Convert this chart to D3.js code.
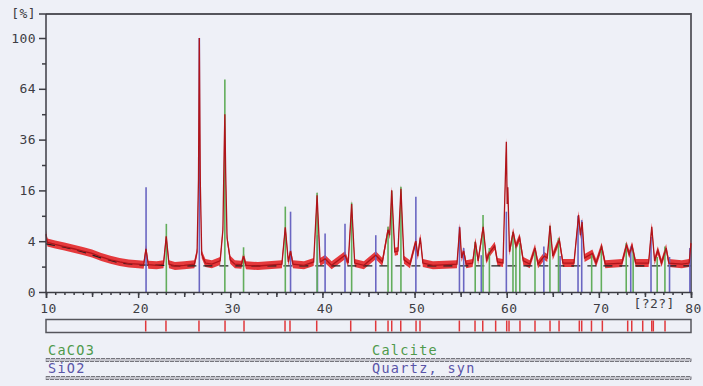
<!DOCTYPE html>
<html>
<head>
<meta charset="utf-8">
<script src="https://cdn.jsdelivr.net/npm/d3@7"></script>
<style>
  html, body { margin: 0; padding: 0; background: #eef0f7; }
  svg { display: block; }
  text { font-family: "DejaVu Sans Mono", "Liberation Mono", monospace; }
</style>
</head>
<body>
<svg id="chart" width="703" height="386"></svg>
<script>
// axis labels
const xTickLabels = [10, 20, 30, 40, 50, 60, 70, 80];
const yTickLabels = [0, 4, 16, 36, 64, 100];
const yMinorTicks = [1, 9, 25, 49, 81];

const observed = [
  [10.0, 5.2], [10.15, 3.8], [11, 3.5], [12, 3.2], [13, 2.9], [14, 2.6], [15, 2.3],
  [16, 1.9], [17, 1.6], [18, 1.4], [19, 1.25], [20, 1.2], [20.6, 1.15], [20.85, 2.9],
  [21.1, 1.15], [22, 1.1], [22.75, 1.2], [23.05, 4.8], [23.35, 1.2], [24, 1.05],
  [25, 1.1], [26.1, 1.2], [26.4, 2.5], [26.55, 20], [26.64, 100], [26.75, 18],
  [26.9, 2.2], [27.3, 1.3], [28, 1.2], [28.9, 1.5], [29.2, 6], [29.33, 30],
  [29.41, 49], [29.5, 22], [29.65, 4.5], [30, 1.6], [30.5, 1.2], [31.2, 1.15],
  [31.44, 2.0], [31.7, 1.1], [33, 1.05], [35.6, 1.2], [35.97, 6.5], [36.3, 1.4],
  [36.54, 2.6], [36.8, 1.2], [38, 1.1], [39.05, 1.4], [39.42, 14.5], [39.75, 1.4],
  [40.29, 1.7], [41, 1.1], [42.45, 2.1], [42.8, 1.3], [43.17, 12.0], [43.5, 1.3],
  [44.5, 1.1], [45.79, 2.1], [46.5, 1.4], [47.12, 6.0], [47.3, 5.0], [47.52, 16],
  [47.85, 2.5], [48.2, 2.6], [48.52, 16.5], [48.85, 1.6], [49.5, 1.2], [50.14, 4.0],
  [50.35, 2.0], [50.62, 4.6], [50.9, 1.3], [52, 1.1], [54.6, 1.2], [54.9, 6.5],
  [55.1, 1.8], [55.33, 2.6], [55.6, 1.2], [56.3, 1.3], [56.6, 3.9], [56.9, 1.5],
  [57.45, 6.6], [57.8, 1.6], [58.15, 2.4], [58.7, 3.3], [59.0, 1.4], [59.6, 1.3],
  [59.96, 35], [60.05, 12], [60.12, 17], [60.3, 2.5], [60.7, 5.6], [61.0, 3.2],
  [61.4, 4.6], [61.8, 1.5], [62.5, 1.2], [63.07, 3.0], [63.4, 1.2], [64.08, 2.0],
  [64.4, 1.8], [64.7, 6.8], [65.0, 2.0], [65.71, 4.2], [66.1, 1.3], [67.3, 1.3],
  [67.8, 9.2], [68.0, 5.0], [68.18, 7.6], [68.45, 1.8], [69.3, 2.3], [69.7, 1.3],
  [70.3, 3.2], [70.7, 1.2], [72.5, 1.3], [73.0, 3.4], [73.3, 2.2], [73.6, 3.3],
  [74.0, 1.3], [75.4, 1.3], [75.74, 6.6], [76.05, 1.5], [76.4, 2.7], [76.8, 1.3],
  [77.3, 3.0], [77.6, 1.3], [79, 1.2], [79.8, 1.3], [80, 3.7],
];

// fitted background
const background = [
  [10, 3.6], [12, 3.1], [14, 2.5], [16, 1.8], [18, 1.3], [20, 1.15], [25, 1.05], [80, 1.05],
];

// reference patterns
const calcitePos = [23.06, 29.41, 31.44, 35.97, 39.42, 43.17, 47.12, 47.52, 48.52, 56.58,
  57.43, 58.12, 60.68, 61.0, 61.42, 63.07, 64.69, 65.62, 69.22, 70.27, 72.97, 73.72, 76.33, 77.17];
const calciteInt = [7.2, 70, 3.1, 11.3, 15.3, 12.4, 6.6, 15.9, 17.2, 3.9,
  9.2, 3.0, 5.6, 3.4, 3.7, 3.0, 6.8, 4.5, 2.1, 3.2, 3.7, 2.7, 1.9, 3.2];
const quartzPos = [20.86, 26.64, 36.54, 39.46, 40.29, 42.45, 45.79, 50.14, 54.87, 55.33,
  57.24, 59.96, 64.03, 65.79, 67.74, 68.14, 73.46, 75.66, 77.67, 79.88];
const quartzInt = [17, 100, 10, 5, 5.3, 7.2, 5.0, 14.1, 6.6, 3.0,
  2.1, 10, 3.2, 2.0, 9, 8, 3.2, 4.7, 1.9, 3.0];

// peak list strip
const stripPeaks = [20.82, 23.02, 26.6, 29.43, 31.49, 35.94, 36.48, 39.38, 43.07, 45.78,
  47.12, 47.52, 48.5, 50.16, 50.59, 54.86, 56.56, 57.4, 58.8, 60.0, 60.25, 61.44, 63.07,
  64.7, 65.68, 67.88, 68.14, 69.2, 70.38, 73.13, 73.57, 74.76, 75.74, 75.91, 77.18];

const phaseCodes = ["CaCO3", "SiO2"];
const phaseNames = ["Calcite", "Quartz, syn"];
const phaseColors = ["#4f9a4c", "#5a55a8"];

const svg = d3.select("#chart");
const ink = "#3d3d44";

const x = d3.scaleLinear().domain([10, 80]).range([46, 691]);
const y = d3.scaleSqrt().domain([0, 119.8]).range([292, 14]);

// plot frame (top and right)
svg.append("path")
  .attr("d", `M46,${y(119.8)}H${x(80)}V${y(0)}`)
  .attr("fill", "none")
  .attr("stroke", "#55555c")
  .attr("stroke-width", 1.8);

// noise band of the measured scan
const band = d3.area()
  .x((d) => x(d[0]))
  .y0((d) => y(d[1]) + 4)
  .y1((d) => y(d[1]) - 4);

svg.append("path")
  .datum(observed)
  .attr("d", band)
  .attr("fill", "#e3191b")
  .attr("opacity", 0.85);

// background
svg.append("path")
  .datum(background)
  .attr("d", d3.line().x((d) => x(d[0])).y((d) => y(d[1])))
  .attr("fill", "none")
  .attr("stroke", "#222")
  .attr("stroke-width", 1.2)
  .attr("stroke-dasharray", "9,7");

// reference sticks
function drawSticks(pos, ints, color) {
  svg.append("g")
    .selectAll("line")
    .data(pos.map((p, i) => [p, ints[i]]))
    .join("line")
    .attr("x1", (d) => x(d[0]))
    .attr("x2", (d) => x(d[0]))
    .attr("y1", y(0))
    .attr("y2", (d) => y(d[1]))
    .attr("stroke", color)
    .attr("stroke-width", 1.6);
}
drawSticks(quartzPos, quartzInt, "#6a66c2");
drawSticks(calcitePos, calciteInt, "#62ad5c");

// measured line core
svg.append("path")
  .datum(observed)
  .attr("d", d3.line().x((d) => x(d[0])).y((d) => y(d[1])))
  .attr("fill", "none")
  .attr("stroke", "#b0141a")
  .attr("stroke-width", 1.3);

// y axis
const yMajor = svg.append("g")
  .attr("transform", "translate(46,0)")
  .call(d3.axisLeft(y).tickValues(yTickLabels).tickSize(7).tickFormat(d3.format("d")));
const yMin = svg.append("g")
  .attr("transform", "translate(46,0)")
  .call(d3.axisLeft(y).tickValues(yMinorTicks).tickSize(4).tickFormat(""));
yMin.select(".domain").remove();
yMajor.select(".domain").attr("d", `M0,${y(119.8)}V${y(0)}`);

const yTop = svg.append("g").attr("transform", `translate(46,${y(119.8)})`);
yTop.append("line").attr("x1", -7).attr("x2", 0);
yTop.append("text").attr("x", -10).attr("dy", "0.32em").attr("text-anchor", "end").text("[%]");

// x axis
const xMinor = svg.append("g")
  .attr("transform", `translate(0,${y(0)})`)
  .call(d3.axisBottom(x).tickValues(d3.range(10, 81, 1)).tickSize(3).tickFormat(""));
const xMid = svg.append("g")
  .attr("transform", `translate(0,${y(0)})`)
  .call(d3.axisBottom(x).tickValues(d3.range(15, 80, 10)).tickSize(5).tickFormat(""));
const xMajor = svg.append("g")
  .attr("transform", `translate(0,${y(0)})`)
  .call(d3.axisBottom(x).tickValues(xTickLabels).tickSize(6).tickPadding(6).tickFormat(d3.format("d")));
xMinor.select(".domain").remove();
xMid.select(".domain").remove();

const xUnit = svg.append("text")
  .attr("x", x(76))
  .attr("y", 308)
  .attr("text-anchor", "middle")
  .text("[?2?]");

// shared axis style
const axes = [yMajor, yMin, yTop, xMinor, xMid, xMajor];
axes.forEach((g) => {
  g.selectAll("line, .domain").attr("stroke", ink).attr("stroke-width", 1.5);
  g.selectAll("text")
    .attr("fill", ink)
    .attr("font-size", 13)
    .attr("letter-spacing", 0.4)
    .attr("font-family", "DejaVu Sans Mono, monospace");
});
xUnit.attr("fill", ink).attr("font-size", 13).attr("letter-spacing", 0.4);
yMajor.selectAll("text").attr("x", -10);
xMajor.selectAll("text").attr("dx", 2);

// peak strip
svg.append("rect")
  .attr("x", 46).attr("y", 319.5)
  .attr("width", 645).attr("height", 13)
  .attr("fill", "none")
  .attr("stroke", "#55555c")
  .attr("stroke-width", 1.5);
svg.append("g")
  .selectAll("line")
  .data(stripPeaks)
  .join("line")
  .attr("x1", (d) => x(d))
  .attr("x2", (d) => x(d))
  .attr("y1", 320.5)
  .attr("y2", 331.5)
  .attr("stroke", "#e0383c")
  .attr("stroke-width", 1.5);

// phase legend rows
phaseCodes.forEach((code, i) => {
  const base = 355 + i * 18;
  svg.append("text")
    .attr("x", 48).attr("y", base)
    .attr("fill", phaseColors[i])
    .attr("font-size", 13.5)
    .attr("letter-spacing", 1.3)
    .text(code);
  svg.append("text")
    .attr("x", 372).attr("y", base)
    .attr("fill", phaseColors[i])
    .attr("font-size", 13.5)
    .attr("letter-spacing", 1.3)
    .text(phaseNames[i]);
  svg.append("rect")
    .attr("x", 46).attr("y", base + 3.5)
    .attr("width", 645).attr("height", 3)
    .attr("fill", "#c4c4cc")
    .attr("stroke", "#6a6a72")
    .attr("stroke-width", 0.9)
    .attr("stroke-dasharray", "4,1");
});
</script>
</body>
</html>
